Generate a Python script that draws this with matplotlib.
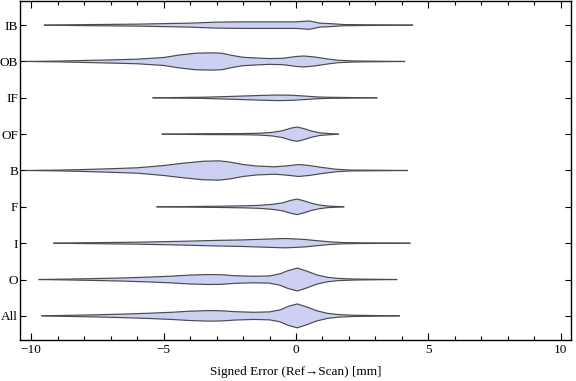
import numpy as np
import matplotlib
matplotlib.use("Agg")
import matplotlib.pyplot as plt
from matplotlib.ticker import MultipleLocator

plt.rcParams['font.family'] = ['Liberation Serif', 'DejaVu Serif']

# categories, bottom to top
categories = ['All', 'O', 'I', 'F', 'B', 'OF', 'IF', 'OB', 'IB']

# density profiles: error value (mm) and half-width (relative)
all_x = [-9.6, -8.5, -7.5, -6.5, -5.5, -4.7, -4.0, -3.3, -2.8, -2.3, -1.6, -1.0, -0.6, -0.3, 0.05, 0.4, 0.8, 1.2, 1.6, 2.2, 3.9]
all_w = [0, 0.6, 1.1, 1.8, 2.7, 3.6, 4.7, 5.3, 5.1, 4.2, 3.6, 4.0, 6.0, 9.5, 12.0, 9.0, 5.0, 2.5, 1.3, 0.6, 0]

o_x = [-9.7, -8.5, -7.5, -6.5, -5.5, -4.7, -4.0, -3.3, -2.8, -2.3, -1.6, -1.0, -0.6, -0.3, 0.05, 0.4, 0.8, 1.2, 1.6, 2.2, 3.8]
o_w = [0, 0.5, 1.0, 1.6, 2.5, 3.4, 4.5, 5.0, 4.8, 3.8, 3.3, 3.6, 5.8, 9.0, 11.5, 8.5, 4.5, 2.2, 1.1, 0.5, 0]

i_x = [-9.15, -8.0, -7.0, -6.0, -5.0, -4.0, -3.0, -2.0, -1.0, -0.4, 0.3, 0.8, 1.3, 1.8, 2.5, 4.3]
i_w = [0, 0.4, 0.7, 1.0, 1.5, 2.1, 2.8, 3.3, 4.2, 4.7, 3.8, 2.5, 1.3, 0.6, 0.3, 0]

f_x = [-5.25, -4.0, -3.0, -2.0, -1.4, -0.9, -0.5, -0.2, 0.05, 0.3, 0.6, 0.9, 1.2, 1.8]
f_w = [0, 0.3, 0.6, 1.0, 1.5, 2.5, 4.0, 6.5, 7.8, 6.0, 3.5, 1.8, 0.8, 0]

b_x = [-10.2, -9.0, -8.0, -7.0, -6.0, -5.0, -4.2, -3.5, -2.9, -2.5, -2.0, -1.5, -0.8, -0.3, 0.1, 0.5, 1.0, 1.5, 2.0, 4.2]
b_w = [0, 0.4, 1.0, 1.8, 2.7, 5.0, 7.5, 9.3, 9.7, 8.5, 6.0, 4.5, 3.7, 4.8, 6.0, 5.0, 3.0, 1.3, 0.5, 0]

of_x = [-5.05, -4.0, -3.0, -2.0, -1.4, -0.9, -0.5, -0.2, 0.05, 0.3, 0.6, 0.9, 1.2, 1.6]
of_w = [0, 0.3, 0.5, 0.6, 0.9, 1.8, 3.5, 6.0, 7.2, 5.5, 3.0, 1.3, 0.7, 0]

if_x = [-5.4, -4.5, -3.5, -2.7, -2.0, -1.3, -0.7, -0.2, 0.3, 0.8, 1.3, 2.0, 3.05]
if_w = [0, 0.3, 0.6, 1.2, 1.8, 2.4, 2.8, 2.6, 1.8, 0.9, 0.5, 0.3, 0]

ob_x = [-10.2, -9.0, -8.0, -7.0, -6.0, -5.0, -4.4, -3.8, -3.2, -2.8, -2.4, -2.0, -1.5, -1.0, -0.5, 0.0, 0.3, 0.7, 1.2, 1.6, 2.2, 4.1]
ob_w = [0, 0.4, 1.0, 1.6, 2.3, 4.0, 6.5, 8.3, 8.7, 8.3, 6.0, 4.2, 3.5, 2.9, 3.2, 5.0, 5.5, 4.5, 2.5, 1.2, 0.5, 0]

ib_x = [-9.5, -8.0, -6.0, -4.0, -3.0, -2.0, -1.0, 0.0, 0.5, 0.9, 1.3, 1.8, 2.5, 4.4]
ib_w = [0, 0.5, 1.0, 2.0, 3.0, 3.3, 3.3, 3.3, 4.2, 2.0, 1.5, 0.6, 0.4, 0]

profiles = [(all_x, all_w), (o_x, o_w), (i_x, i_w), (f_x, f_w), (b_x, b_w),
            (of_x, of_w), (if_x, if_w), (ob_x, ob_w), (ib_x, ib_w)]

fill_col = '#ccd1f4'
edge_col = '#4a4a4a'
scale = 1 / 36.5

fig = plt.figure(figsize=(5.76, 3.81), dpi=100)
ax = fig.add_axes([0.035, 0.108, 0.956, 0.889])

for k, (xs, ws) in enumerate(profiles):
    pos = k + 1
    xs = np.array(xs)
    ws = np.array(ws) * scale
    ax.fill_between(xs, pos - ws, pos + ws, facecolor=fill_col, edgecolor='none')
    ax.plot(xs, pos + ws, color=edge_col, lw=0.85, solid_joinstyle='round')
    ax.plot(xs, pos - ws, color=edge_col, lw=0.85, solid_joinstyle='round')

ax.set_xlim(-10.42, 10.38)
ax.set_ylim(0.34, 9.66)
ax.set_yticks(range(1, len(categories) + 1))
ax.set_yticklabels(categories)
ax.xaxis.set_major_locator(MultipleLocator(5))
ax.xaxis.set_minor_locator(MultipleLocator(1))
ax.tick_params(axis='both', which='both', direction='in', top=True, right=True,
               labelsize=9.5, width=0.8, pad=3)
ax.tick_params(axis='y', pad=1.5)
ax.tick_params(axis='x', which='major', length=5)
ax.tick_params(axis='x', which='minor', length=3)
ax.tick_params(axis='y', which='major', length=4)
for sp in ax.spines.values():
    sp.set_linewidth(1.0)

ax.set_xlabel('Signed Error (Ref\u2192Scan) [mm]', fontsize=9.5, labelpad=7)

fig.savefig('out.png', dpi=100)
